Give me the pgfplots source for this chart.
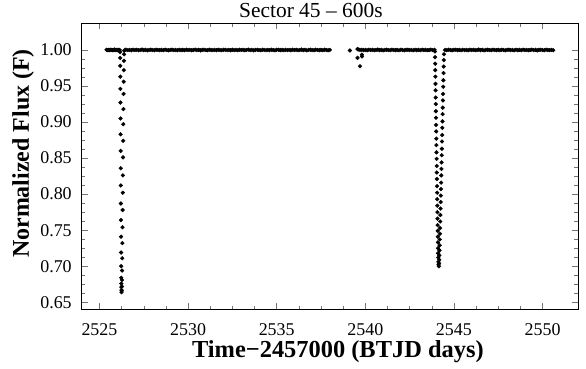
\documentclass[border=0pt]{standalone}
\usepackage{fontspec}
\setmainfont{Liberation Serif}
\usepackage{pgfplots}
\pgfplotsset{compat=1.18}
\pgfplotsset{pts/.style={only marks, mark=*, mark size=1.9bp, mark options={draw=none, fill=black}}}

\begin{document}
\begin{tikzpicture}
\begin{axis}[
    name=ax,
    scale only axis,
    width=496bp, height=286bp,
    xmin=2524, xmax=2552, ymin=0.64, ymax=1.037,
    xtick={2525,2530,2535,2540,2545,2550},
    ytick={0.65,0.7,0.75,0.8,0.85,0.9,0.95,1},
    minor x tick num=3, minor y tick num=3,
    tick align=inside,
    major tick length=6bp, minor tick length=3.5bp,
    tick style={black!55, line width=0.5bp},
    axis line style={line width=0.8bp},
    /pgf/number format/assume math mode=true,
    tick label style={font=\fontsize{18}{20}\selectfont},
    xticklabel style={anchor=base, yshift=-26bp, /pgf/number format/1000 sep={}},
    yticklabel style={xshift=-6.5bp, /pgf/number format/.cd, fixed, fixed zerofill, precision=2},
    title={\fontsize{21.5}{24}\selectfont Sector 45 – 600s},
    title style={at={(axis description cs:0.5,1)}, anchor=base, yshift=-0.5bp, xshift=-19bp},
    xlabel={\fontsize{24.5}{27}\selectfont\textbf{Time−2457000 (BTJD days)}},
    xlabel style={at={(axis description cs:0.5,0)}, anchor=base, yshift=-48bp, xshift=8bp},
    ylabel={\fontsize{24}{27}\selectfont\textbf{Normalized Flux (F)}},
    ylabel style={at={(axis description cs:-0.1063,0.545)}, anchor=base},
]
% out-of-eclipse, first orbit
\addplot[pts] coordinates {
(2525.40,1.0003)(2525.45,0.9998)(2525.50,1.0001)(2525.55,0.9996)(2525.60,1.0004)(2525.65,0.9999)(2525.70,1.0002)(2525.75,0.9997)
(2525.80,1.0000)(2525.85,1.0005)(2525.90,0.9998)(2525.95,1.0001)(2526.00,0.9997)(2526.05,1.0003)(2526.10,0.9999)(2526.14,1.0001)
(2526.45,1.0002)
(2526.5,1.0003)(2526.6,0.9998)(2526.7,1.0001)(2526.8,0.9996)(2526.9,1.0004)(2527.0,0.9999)(2527.1,1.0002)(2527.2,0.9997)(2527.3,1.0000)(2527.4,1.0005)
(2527.5,0.9998)(2527.6,1.0002)(2527.7,0.9995)(2527.8,1.0001)(2527.9,1.0003)(2528.0,0.9999)(2528.1,0.9997)(2528.2,1.0004)(2528.3,1.0000)(2528.4,0.9998)
(2528.5,1.0001)(2528.6,0.9997)(2528.7,1.0004)(2528.8,0.9999)(2528.9,0.9996)(2529.0,1.0002)(2529.1,1.0003)(2529.2,0.9998)(2529.3,1.0001)(2529.4,0.9996)
(2529.5,1.0003)(2529.6,0.9998)(2529.7,1.0001)(2529.8,0.9996)(2529.9,1.0004)(2530.0,0.9999)(2530.1,1.0002)(2530.2,0.9997)(2530.3,1.0000)(2530.4,1.0005)
(2530.5,0.9998)(2530.6,1.0002)(2530.7,0.9995)(2530.8,1.0001)(2530.9,1.0003)(2531.0,0.9999)(2531.1,0.9997)(2531.2,1.0004)(2531.3,1.0000)(2531.4,0.9998)
(2531.5,1.0001)(2531.6,0.9997)(2531.7,1.0004)(2531.8,0.9999)(2531.9,0.9996)(2532.0,1.0002)(2532.1,1.0003)(2532.2,0.9998)(2532.3,1.0001)(2532.4,0.9996)
(2532.5,1.0003)(2532.6,0.9998)(2532.7,1.0001)(2532.8,0.9996)(2532.9,1.0004)(2533.0,0.9999)(2533.1,1.0002)(2533.2,0.9997)(2533.3,1.0000)(2533.4,1.0005)
(2533.5,0.9998)(2533.6,1.0002)(2533.7,0.9995)(2533.8,1.0001)(2533.9,1.0003)(2534.0,0.9999)(2534.1,0.9997)(2534.2,1.0004)(2534.3,1.0000)(2534.4,0.9998)
(2534.5,1.0001)(2534.6,0.9997)(2534.7,1.0004)(2534.8,0.9999)(2534.9,0.9996)(2535.0,1.0002)(2535.1,1.0003)(2535.2,0.9998)(2535.3,1.0001)(2535.4,0.9996)
(2535.5,1.0003)(2535.6,0.9998)(2535.7,1.0001)(2535.8,0.9996)(2535.9,1.0004)(2536.0,0.9999)(2536.1,1.0002)(2536.2,0.9997)(2536.3,1.0000)(2536.4,1.0005)
(2536.5,0.9998)(2536.6,1.0002)(2536.7,0.9995)(2536.8,1.0001)(2536.9,1.0003)(2537.0,0.9999)(2537.1,0.9997)(2537.2,1.0004)(2537.3,1.0000)(2537.4,0.9998)
(2537.5,1.0001)(2537.6,0.9997)(2537.7,1.0004)(2537.8,0.9999)(2537.9,0.9996)(2538.0,1.0002)
};
% primary eclipse
\addplot[pts] coordinates {
(2526.165,0.997)(2526.169,0.989)(2526.173,0.978)(2526.177,0.963)(2526.181,0.946)(2526.185,0.927)(2526.189,0.905)
(2526.193,0.883)(2526.197,0.860)(2526.201,0.836)(2526.205,0.812)(2526.209,0.787)(2526.213,0.764)(2526.217,0.741)
(2526.221,0.719)(2526.225,0.700)(2526.229,0.684)(2526.233,0.676)(2526.237,0.671)(2526.241,0.667)(2526.245,0.664)
(2526.255,0.666)(2526.262,0.672)(2526.270,0.681)(2526.277,0.694)(2526.285,0.711)(2526.292,0.732)(2526.300,0.754)
(2526.307,0.778)(2526.315,0.802)(2526.322,0.826)(2526.330,0.851)(2526.337,0.874)(2526.345,0.897)(2526.352,0.918)
(2526.360,0.939)(2526.367,0.956)(2526.375,0.972)(2526.382,0.985)(2526.390,0.994)(2526.397,0.999)
};
% second orbit, out of eclipse
\addplot[pts] coordinates {
(2539.13,0.9993)(2539.56,1.0012)(2539.56,0.9890)(2539.63,1.0006)(2539.70,0.9775)(2539.70,1.0000)(2539.81,0.9935)(2539.81,0.9910)
(2539.8,1.0003)(2539.9,0.9998)(2540.0,1.0001)(2540.1,0.9996)(2540.2,1.0004)(2540.3,0.9999)(2540.4,1.0002)(2540.5,0.9997)(2540.6,1.0000)(2540.7,1.0005)
(2540.8,0.9998)(2540.9,1.0002)(2541.0,0.9995)(2541.1,1.0001)(2541.2,1.0003)(2541.3,0.9999)(2541.4,0.9997)(2541.5,1.0004)(2541.6,1.0000)(2541.7,0.9998)
(2541.8,1.0001)(2541.9,0.9997)(2542.0,1.0004)(2542.1,0.9999)(2542.2,0.9996)(2542.3,1.0002)(2542.4,1.0003)(2542.5,0.9998)(2542.6,1.0001)(2542.7,0.9996)
(2542.8,1.0003)(2542.9,0.9998)(2543.0,1.0001)(2543.1,0.9996)(2543.2,1.0004)(2543.3,0.9999)(2543.4,1.0002)(2543.5,0.9997)(2543.6,1.0000)(2543.7,1.0005)
(2543.8,0.9998)(2543.9,1.0002)
(2544.5,1.0001)(2544.6,0.9997)(2544.7,1.0004)(2544.8,0.9999)(2544.9,0.9996)(2545.0,1.0002)(2545.1,1.0003)(2545.2,0.9998)(2545.3,1.0001)(2545.4,0.9996)
(2545.5,1.0003)(2545.6,0.9998)(2545.7,1.0001)(2545.8,0.9996)(2545.9,1.0004)(2546.0,0.9999)(2546.1,1.0002)(2546.2,0.9997)(2546.3,1.0000)(2546.4,1.0005)
(2546.5,0.9998)(2546.6,1.0002)(2546.7,0.9995)(2546.8,1.0001)(2546.9,1.0003)(2547.0,0.9999)(2547.1,0.9997)(2547.2,1.0004)(2547.3,1.0000)(2547.4,0.9998)
(2547.5,1.0001)(2547.6,0.9997)(2547.7,1.0004)(2547.8,0.9999)(2547.9,0.9996)(2548.0,1.0002)(2548.1,1.0003)(2548.2,0.9998)(2548.3,1.0001)(2548.4,0.9996)
(2548.5,1.0003)(2548.6,0.9998)(2548.7,1.0001)(2548.8,0.9996)(2548.9,1.0004)(2549.0,0.9999)(2549.1,1.0002)(2549.2,0.9997)(2549.3,1.0000)(2549.4,1.0005)
(2549.5,0.9998)(2549.6,1.0002)(2549.7,0.9995)(2549.8,1.0001)(2549.9,1.0003)(2550.0,0.9999)(2550.1,0.9997)(2550.2,1.0004)(2550.3,1.0000)(2550.4,0.9998)
(2550.5,1.0001)(2550.6,0.9997)
};
% secondary eclipse
\addplot[pts] coordinates {
(2543.930,0.998)(2543.936,0.990)(2543.942,0.981)(2543.947,0.972)(2543.953,0.963)(2543.959,0.953)(2543.965,0.944)
(2543.971,0.934)(2543.976,0.925)(2543.982,0.915)(2543.988,0.906)(2543.994,0.896)(2544.000,0.887)(2544.005,0.877)
(2544.011,0.868)(2544.017,0.858)(2544.023,0.849)(2544.029,0.839)(2544.034,0.830)(2544.040,0.821)(2544.046,0.811)
(2544.052,0.802)(2544.058,0.793)(2544.063,0.784)(2544.069,0.775)(2544.075,0.766)(2544.081,0.757)(2544.087,0.749)
(2544.092,0.741)(2544.098,0.733)(2544.104,0.725)(2544.110,0.718)(2544.116,0.712)(2544.121,0.706)(2544.127,0.702)
(2544.150,0.700)(2544.159,0.704)(2544.167,0.709)(2544.176,0.715)(2544.184,0.722)(2544.193,0.729)(2544.201,0.737)
(2544.210,0.745)(2544.218,0.753)(2544.227,0.762)(2544.235,0.771)(2544.244,0.780)(2544.252,0.789)(2544.261,0.798)
(2544.269,0.807)(2544.278,0.816)(2544.286,0.826)(2544.295,0.835)(2544.303,0.844)(2544.312,0.854)(2544.320,0.863)
(2544.329,0.873)(2544.337,0.882)(2544.346,0.892)(2544.354,0.901)(2544.363,0.911)(2544.371,0.920)(2544.380,0.930)
(2544.388,0.939)(2544.397,0.949)(2544.405,0.958)(2544.414,0.968)(2544.422,0.977)(2544.431,0.986)(2544.439,0.994)
};
\end{axis}
\pgfresetboundingbox
\path ([shift={(-81.7bp,-59bp)}]ax.south west) rectangle ([shift={(8bp,23.3bp)}]ax.north east);
\end{tikzpicture}
\end{document}
